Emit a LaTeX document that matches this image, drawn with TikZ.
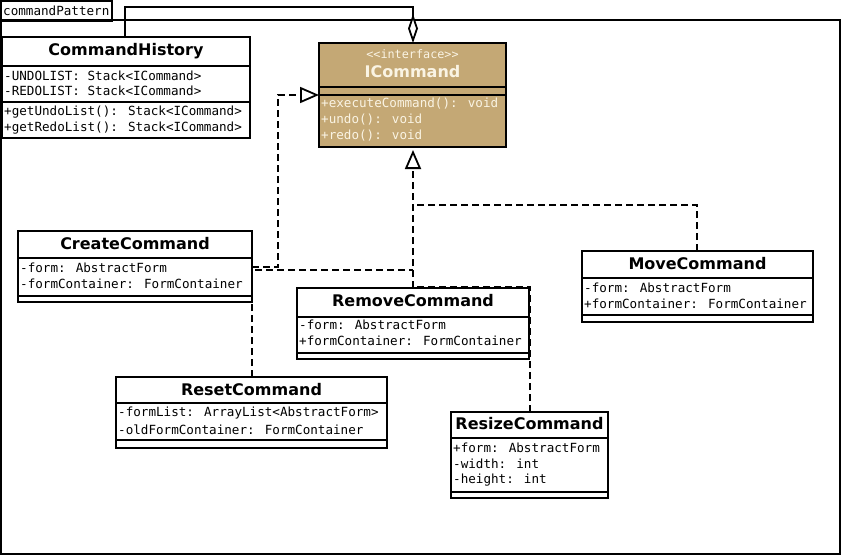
\documentclass[tikz,border=0pt]{standalone}
\usepackage{fontspec}
\setmainfont{DejaVu Sans}
\newfontfamily\monof{DejaVu Sans Mono}
\usetikzlibrary{arrows.meta}
\definecolor{ifill}{RGB}{196,168,117}
\definecolor{itext}{RGB}{250,244,228}
\begin{document}
\begin{tikzpicture}[x=1pt,y=-1pt,
  box/.style={draw=black, line width=1.8pt, fill=white, inner sep=0pt, outer sep=0pt, anchor=north west},
  ttl/.style={font=\fontsize{16}{18}\selectfont\bfseries, inner sep=0pt},
  attr/.style={font=\monof\fontsize{12.6}{15}\selectfont, inner sep=0pt, anchor=west},
  sepline/.style={line width=1.8pt},
  dep/.style={line width=1.8pt, dash pattern=on 7pt off 4pt},
  real/.style={dep, -{Triangle[open, length=19pt, width=16pt, line width=1.8pt, fill=white]}},
  aggr/.style={line width=1.8pt, -{Diamond[open, length=29pt, width=10pt, line width=1.8pt, fill=white]}}
]
\useasboundingbox (0,0) rectangle (842,556);
\fill[white] (0,0) rectangle (842,556);
% package frame
\node[box, minimum width=111pt, minimum height=20pt] (tab) at (1,1) {};
\node[attr, anchor=west] (pkglabel) at (3,11) {commandPattern};
\node[box, minimum width=839pt, minimum height=534pt, fill=none] (frame) at (1,20) {};

% CommandHistory
\node[box, minimum width=248pt, minimum height=101pt] (hist) at (2,37) {};
\node[ttl] (histT) at (126,51) {CommandHistory};
\draw[sepline] (2,66) -- (250,66);
\draw[sepline] (2,102) -- (250,102);
\node[attr] (h1) at (4,76) {-UNDOLIST: Stack<ICommand>};
\node[attr] (h2) at (4,91) {-REDOLIST: Stack<ICommand>};
\node[attr] (h3) at (4,112) {+getUndoList(): Stack<ICommand>};
\node[attr] (h4) at (4,128) {+getRedoList(): Stack<ICommand>};

% ICommand
\node[box, fill=ifill, minimum width=187pt, minimum height=104pt] (icmd) at (319,43) {};
\node[font=\monof\fontsize{11.8}{13}\selectfont, text=itext, inner sep=0pt] (stereo) at (412.5,54) {<<interface>>};
\node[ttl, text=itext] (icmdT) at (412.5,72) {ICommand};
\draw[sepline] (319,87) -- (506,87);
\draw[sepline] (319,95) -- (506,95);
\node[attr, text=itext] (i1) at (321,104) {+executeCommand(): void};
\node[attr, text=itext] (i2) at (321,120) {+undo(): void};
\node[attr, text=itext] (i3) at (321,136) {+redo(): void};

% CreateCommand
\node[box, minimum width=234pt, minimum height=71pt] (create) at (18,231) {};
\node[ttl] (createT) at (135,244) {CreateCommand};
\draw[sepline] (18,258) -- (252,258);
\draw[sepline] (18,296) -- (252,296);
\node[attr] (c1) at (20,268) {-form: AbstractForm};
\node[attr] (c2) at (20,284) {-formContainer: FormContainer};

% MoveCommand
\node[box, minimum width=231pt, minimum height=71pt] (move) at (582,251) {};
\node[ttl] (moveT) at (697.5,264) {MoveCommand};
\draw[sepline] (582,278) -- (813,278);
\draw[sepline] (582,315) -- (813,315);
\node[attr] (m1) at (584,288) {-form: AbstractForm};
\node[attr] (m2) at (584,304) {+formContainer: FormContainer};

% RemoveCommand
\node[box, minimum width=232pt, minimum height=71pt] (remove) at (297,288) {};
\node[ttl] (removeT) at (413,301) {RemoveCommand};
\draw[sepline] (297,317) -- (529,317);
\draw[sepline] (297,353) -- (529,353);
\node[attr] (r1) at (299,325) {-form: AbstractForm};
\node[attr] (r2) at (299,341) {+formContainer: FormContainer};

% ResetCommand
\node[box, minimum width=271pt, minimum height=71pt] (reset) at (116,377) {};
\node[ttl] (resetT) at (251.5,390) {ResetCommand};
\draw[sepline] (116,403) -- (387,403);
\draw[sepline] (116,440) -- (387,440);
\node[attr] (s1) at (118,413) {-formList: ArrayList<AbstractForm>};
\node[attr] (s2) at (118,430) {-oldFormContainer: FormContainer};

% ResizeCommand
\node[box, minimum width=157pt, minimum height=86pt] (resize) at (451,412) {};
\node[ttl] (resizeT) at (529.5,424) {ResizeCommand};
\draw[sepline] (451,438) -- (608,438);
\draw[sepline] (451,492) -- (608,492);
\node[attr] (z1) at (453,448) {+form: AbstractForm};
\node[attr] (z2) at (453,464) {-width: int};
\node[attr] (z3) at (453,480) {-height: int};

% connector anchors
\coordinate (leftTip) at (319,95);
\coordinate (botTip) at (413,150);
\coordinate (topTip) at (413,43);

% aggregation
\draw[aggr] (hist.north -| 125,0) -- (125,7) -- (413,7) -- (topTip);

% realizations
\draw[real] (252,267) -- (278,267) -- (278,95) -- (leftTip);
\draw[dep] (reset.north -| 252,0) -- (252,270) -- (413,270);
\draw[dep] (move.north -| 697,0) -- (697,205) -- (413,205);
\draw[dep] (resize.north -| 530,0) -- (530,287) -- (413,287);
\draw[real] (remove.north -| 413,0) -- (botTip);
\end{tikzpicture}
\end{document}
